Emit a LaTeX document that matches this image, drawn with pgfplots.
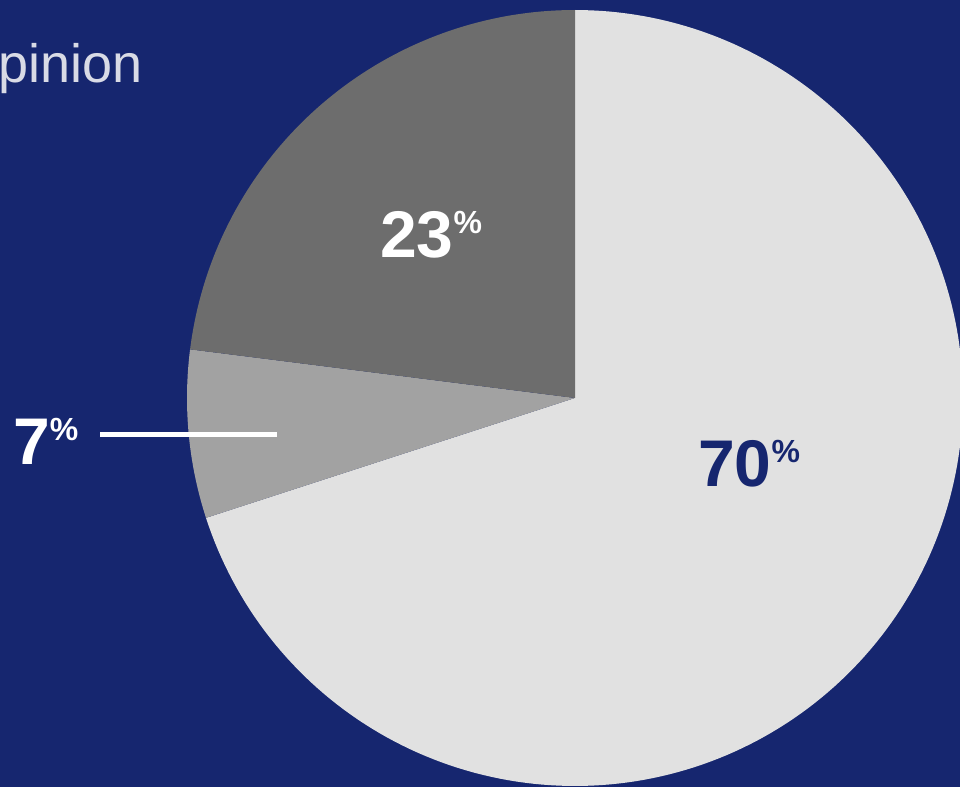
\documentclass[border=0pt]{standalone}
\usepackage{pgfplots}
\pgfplotsset{compat=1.18}
\usepackage{pgfplotstable}
\usepackage{fontspec}
\setmainfont{Liberation Sans}
\definecolor{navy}{HTML}{16266F}
\definecolor{slicelight}{HTML}{E1E1E1}
\definecolor{slicemid}{HTML}{A2A2A2}
\definecolor{slicedark}{HTML}{6D6D6D}
\definecolor{titlegray}{HTML}{D9DBE6}
% pie slices (percent), drawn clockwise from 12 o'clock
\pgfplotstableread{
name value
agree 70
neutral 7
disagree 23
}\slices
\def\cx{575}\def\cy{389}\def\rr{388}
\begin{document}
\begin{tikzpicture}
\pgfplotstablegetelem{0}{value}\of\slices \let\va\pgfplotsretval
\pgfplotstablegetelem{1}{value}\of\slices \let\vb\pgfplotsretval
\pgfplotstablegetelem{2}{value}\of\slices \let\vc\pgfplotsretval
\pgfmathsetmacro{\aS}{90}
\pgfmathsetmacro{\aE}{90-3.6*\va}
\pgfmathsetmacro{\bE}{\aE-3.6*\vb}
\pgfmathsetmacro{\cE}{\bE-3.6*\vc}
\begin{axis}[
  scale only axis, width=960pt, height=787pt,
  xmin=0, xmax=960, ymin=0, ymax=787,
  hide axis, clip=true,
]
% background
\addplot[fill=navy, draw=none] coordinates {(0,0) (960,0) (960,787) (0,787)} -- cycle;
% slices
\addplot[fill=slicelight, draw=none, domain=\aE:\aS, samples=200]
  ({\cx+\rr*cos(x)},{\cy+\rr*sin(x)}) -- (axis cs:\cx,\cy) -- cycle;
\addplot[fill=slicemid, draw=none, domain=\bE:\aE, samples=40]
  ({\cx+\rr*cos(x)},{\cy+\rr*sin(x)}) -- (axis cs:\cx,\cy) -- cycle;
\addplot[fill=slicedark, draw=none, domain=\cE:\bE, samples=100]
  ({\cx+\rr*cos(x)},{\cy+\rr*sin(x)}) -- (axis cs:\cx,\cy) -- cycle;
% leader line for 7%
\addplot[white, line width=5pt] coordinates {(100,352) (277,352)};
% labels
\node[anchor=base west, inner sep=0pt, text=white] at (axis cs:380,529)
  {\fontsize{66}{70}\selectfont\bfseries 23\raisebox{24pt}{\fontsize{32}{34}\selectfont\%}};
\node[anchor=base west, inner sep=0pt, text=navy] at (axis cs:698,300)
  {\fontsize{66}{70}\selectfont\bfseries 70\raisebox{24pt}{\fontsize{32}{34}\selectfont\%}};
\node[anchor=base west, inner sep=0pt, text=white] at (axis cs:13,322)
  {\fontsize{66}{70}\selectfont\bfseries 7\raisebox{24pt}{\fontsize{32}{34}\selectfont\%}};
\node[anchor=base east, inner sep=0pt, text=titlegray] at (axis cs:143,704)
  {\fontsize{54}{60}\selectfont Opinion};
\end{axis}
\pgfresetboundingbox
\path[use as bounding box] (current axis.south west) rectangle (current axis.north east);
\end{tikzpicture}
\end{document}
